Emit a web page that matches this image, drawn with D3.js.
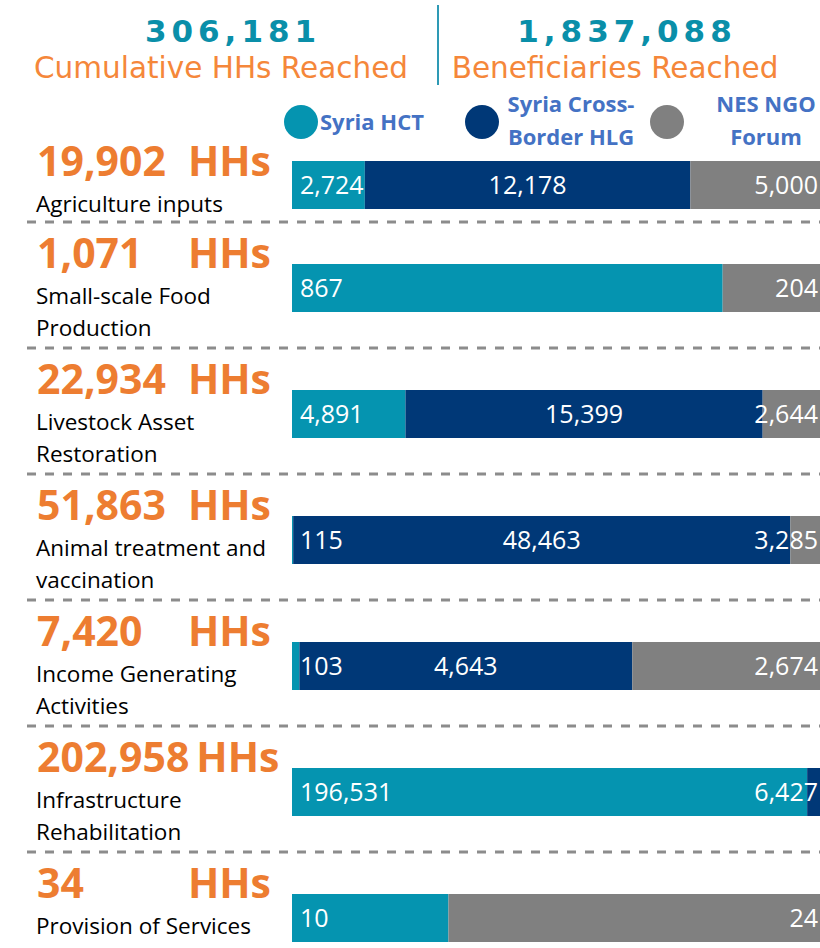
<!DOCTYPE html>
<html>
<head>
<meta charset="utf-8">
<script src="https://cdn.jsdelivr.net/npm/d3@7"></script>
<style>
  body { margin: 0; background: #fff; }
  svg { display: block; }
</style>
</head>
<body>
<div id="chart"></div>
<script>
// headline figures
const headlineValues = [306181, 1837088]
const headlineLabels = ["Cumulative HHs Reached", "Beneficiaries Reached"]

// activities and the HHs reached by each coordination body
const categories = [
    "Agriculture inputs",
    "Small-scale Food Production",
    "Livestock Asset Restoration",
    "Animal treatment and vaccination",
    "Income Generating Activities",
    "Infrastructure Rehabilitation",
    "Provision of Services"
]
const hctValues = [2724, 867, 4891, 115, 103, 196531, 10]
const hlgValues = [12178, 0, 15399, 48463, 4643, 6427, 0]
const nesValues = [5000, 204, 2644, 3285, 2674, 0, 24]

const seriesKeys = ["hct", "hlg", "nes"]
const legendLines = [["Syria HCT"], ["Syria Cross-", "Border HLG"], ["NES NGO", "Forum"]]

const colors = {hct: "#0594B0", hlg: "#003877", nes: "#808080"}
const orange = "#ED7D31"

const width = 820, height = 948

let data = categories.map((c, i) => ({
    category: c,
    hct: hctValues[i],
    hlg: hlgValues[i],
    nes: nesValues[i]
}))
data.forEach(d => d.total = d3.sum(seriesKeys, k => d[k]))

const fmt = d3.format(",")

let svg = d3.select("#chart")
    .append("svg")
    .attr("width", width)
    .attr("height", height)

// header
let header = svg.append("g")
const headCenters = [230, 624]
headlineValues.forEach((v, i) => {
    header.append("text")
        .attr("x", headCenters[i] + 3)
        .attr("y", 42)
        .attr("text-anchor", "middle")
        .style("font-family", "'DejaVu Sans', Verdana, sans-serif")
        .style("font-weight", "bold")
        .style("font-size", "31px")
        .style("letter-spacing", "5px")
        .attr("fill", "#0A8FA9")
        .text(fmt(v))
    header.append("text")
        .attr("x", headCenters[i] - 9)
        .attr("y", 78)
        .attr("text-anchor", "middle")
        .style("font-family", "'DejaVu Sans', Verdana, sans-serif")
        .style("font-size", "29.5px")
        .attr("fill", "#F5873A")
        .text(headlineLabels[i])
})
header.append("line")
    .attr("x1", 438).attr("x2", 438)
    .attr("y1", 5).attr("y2", 85)
    .attr("stroke", "#2E9AB5")
    .attr("stroke-width", 2)

// legend
const legendX = [301, 482, 667]
const legendTextX = [320, 571, 766]
let legend = svg.append("g")
seriesKeys.forEach((k, i) => {
    legend.append("circle")
        .attr("cx", legendX[i])
        .attr("cy", 122)
        .attr("r", 17)
        .attr("fill", colors[k])
    let lines = legendLines[i]
    let t = legend.append("text")
        .style("font-family", "'Open Sans', sans-serif")
        .style("font-weight", "bold")
        .style("font-size", "22px")
        .attr("fill", "#4472C4")
    if (lines.length == 1) {
        t.attr("x", legendTextX[i]).attr("y", 130).text(lines[0])
    } else {
        lines.forEach((l, j) => {
            t.append("tspan")
                .attr("x", legendTextX[i])
                .attr("y", 112 + j * 33)
                .attr("text-anchor", "middle")
                .text(l)
        })
    }
})

// rows
let y = d3.scaleBand()
    .domain(categories)
    .range([96, 96 + 126 * categories.length])

const barLeft = 292, barRight = 824, barH = 48

let rows = svg.selectAll("g.row")
    .data(data)
    .join("g")
    .attr("class", "row")

rows.each(function(d, i) {
    let g = d3.select(this)
    let top = y(d.category)
    let shift = i == 0 ? 34 : 0

    // big HHs figure
    let num = g.append("text")
        .attr("x", 37)
        .attr("y", top + shift + 46)
        .style("font-family", "'Open Sans', sans-serif")
        .style("font-weight", "bold")
        .style("font-size", "41px")
        .attr("fill", orange)
        .text(fmt(d.total))
    let hh = g.append("text")
        .attr("y", top + shift + 46)
        .style("font-family", "'Open Sans', sans-serif")
        .style("font-weight", "bold")
        .style("font-size", "41px")
        .attr("fill", orange)
        .text("HHs")
    let numEnd = 37 + num.node().getComputedTextLength()
    let hhW = hh.node().getComputedTextLength()
    hh.attr("x", Math.max(271 - hhW, numEnd + 7))

    // category label, wrapped
    let words = d.category.split(" ")
    let lines = [], line = []
    let probe = g.append("text")
        .style("font-family", "'Open Sans', sans-serif")
        .style("font-size", "22.5px")
    words.forEach(w => {
        let test = line.concat([w]).join(" ")
        probe.text(test)
        if (probe.node().getComputedTextLength() > 250 && line.length) {
            lines.push(line.join(" "))
            line = [w]
        } else {
            line.push(w)
        }
    })
    lines.push(line.join(" "))
    probe.remove()
    g.append("text")
        .style("font-family", "'Open Sans', sans-serif")
        .style("font-size", "22.5px")
        .attr("fill", "#000")
        .selectAll("tspan")
        .data(lines)
        .join("tspan")
        .attr("x", 36)
        .attr("y", (l, j) => top + shift + 82 + j * 32)
        .text(l => l)

    // stacked bar, 100% of the row total
    let x = d3.scaleLinear()
        .domain([0, d.total])
        .range([barLeft, barRight])
    let stack = d3.stack().keys(seriesKeys)([d])
    let segs = stack.map(s => ({key: s.key, x0: s[0][0], x1: s[0][1], v: d[s.key]}))
        .filter(s => s.v > 0)
    let barY = top + (i == 0 ? 65 : 42)

    g.selectAll("rect")
        .data(segs)
        .join("rect")
        .attr("x", s => x(s.x0))
        .attr("y", barY)
        .attr("width", s => x(s.x1) - x(s.x0))
        .attr("height", barH)
        .attr("fill", s => colors[s.key])

    g.selectAll("text.val")
        .data(segs)
        .join("text")
        .attr("class", "val")
        .attr("x", (s, j) => j == 0 ? x(s.x0) + 8 : (j == segs.length - 1 ? barRight - 6 : (x(s.x0) + x(s.x1)) / 2))
        .attr("text-anchor", (s, j) => j == 0 ? "start" : (j == segs.length - 1 ? "end" : "middle"))
        .attr("y", barY + barH / 2 + 9)
        .style("font-family", "'Open Sans', sans-serif")
        .style("font-size", "25px")
        .attr("fill", "#fff")
        .text(s => fmt(s.v))

    // dashed separator
    if (i < data.length - 1) {
        g.append("line")
            .attr("x1", 27).attr("x2", 820)
            .attr("y1", top + 126).attr("y2", top + 126)
            .attr("stroke", "#8C8C8C")
            .attr("stroke-width", 3)
            .attr("stroke-dasharray", "9,9")
    }
})
</script>
</body>
</html>
